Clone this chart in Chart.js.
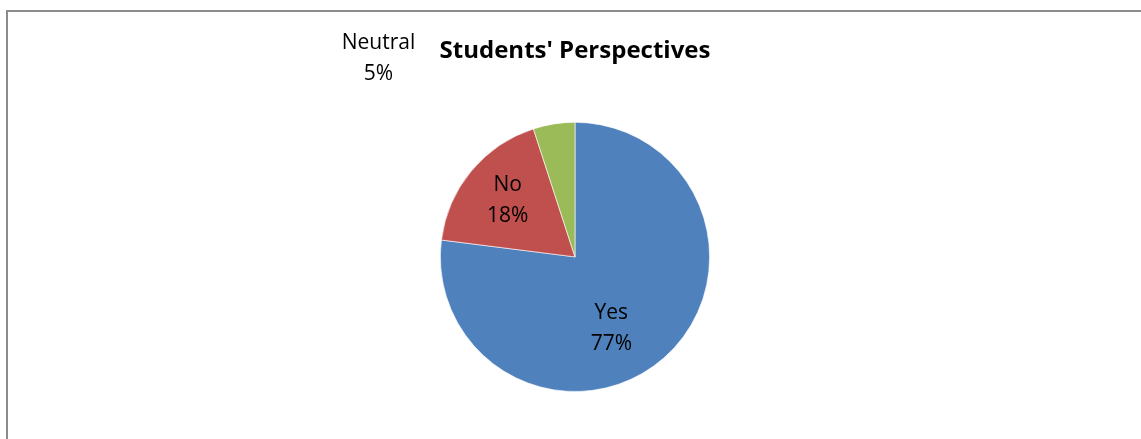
<!DOCTYPE html>
<html>
<head>
<meta charset="utf-8">
<script src="https://cdn.jsdelivr.net/npm/chart.js@4/dist/chart.umd.min.js"></script>
<style>
    html, body { margin: 0; padding: 0; background: #fff; overflow: hidden; }
    #wrap { position: relative; width: 1141px; height: 439px; }
    #frame {
        position: absolute; left: 6px; top: 10px; width: 1200px; height: 500px;
        border-left: 2px solid #8c8c8c; border-top: 2px solid #8c8c8c;
        pointer-events: none;
    }
    canvas { position: absolute; left: 0; top: 0; }
</style>
</head>
<body>
<div id="wrap">
    <div id="frame"></div>
    <canvas id="pieChart" width="1141" height="439"></canvas>
</div>
<script>
const categories = ['Yes', 'No', 'Neutral'];
const percents = [77, 18, 5];
const colors = ['#4F81BD', '#C0504D', '#9BBB59'];

// where each label sits, relative to the pie centre, in units of the radius
const labelAt = [[0.27, 0.53], [-0.50, -0.42], [-1.46, -1.48]];

const FONT = '"Open Sans", "Liberation Sans", sans-serif';

const sliceLabels = {
    id: 'sliceLabels',
    afterDatasetsDraw(chart) {
        const ctx = chart.ctx;
        const arcs = chart.getDatasetMeta(0).data;
        ctx.save();
        ctx.font = '21px ' + FONT;
        ctx.fillStyle = '#000';
        ctx.textAlign = 'center';
        ctx.textBaseline = 'middle';
        arcs.forEach((arc, i) => {
            const r = arc.outerRadius;
            const x = arc.x + labelAt[i][0] * r;
            const y = arc.y + labelAt[i][1] * r;
            ctx.fillText(categories[i], x, y - 15);
            ctx.fillText(percents[i] + '%', x, y + 16);
        });
        ctx.restore();
    }
};

const ctx = document.getElementById('pieChart').getContext('2d');
new Chart(ctx, {
    type: 'pie',
    data: {
        labels: categories,
        datasets: [{
            data: percents,
            backgroundColor: colors,
            borderColor: 'rgba(255,255,255,0.6)',
            borderWidth: 1
        }]
    },
    options: {
        responsive: false,
        animation: false,
        layout: { padding: { left: 9, right: 0, top: 0, bottom: 47 } },
        plugins: {
            legend: { display: false },
            tooltip: { enabled: false },
            title: {
                display: true,
                text: "Students' Perspectives",
                color: '#000',
                font: { family: FONT, size: 24, weight: 'bold', lineHeight: 1.2 },
                padding: { top: 37, bottom: 56 }
            }
        }
    },
    plugins: [sliceLabels]
});
</script>
</body>
</html>
